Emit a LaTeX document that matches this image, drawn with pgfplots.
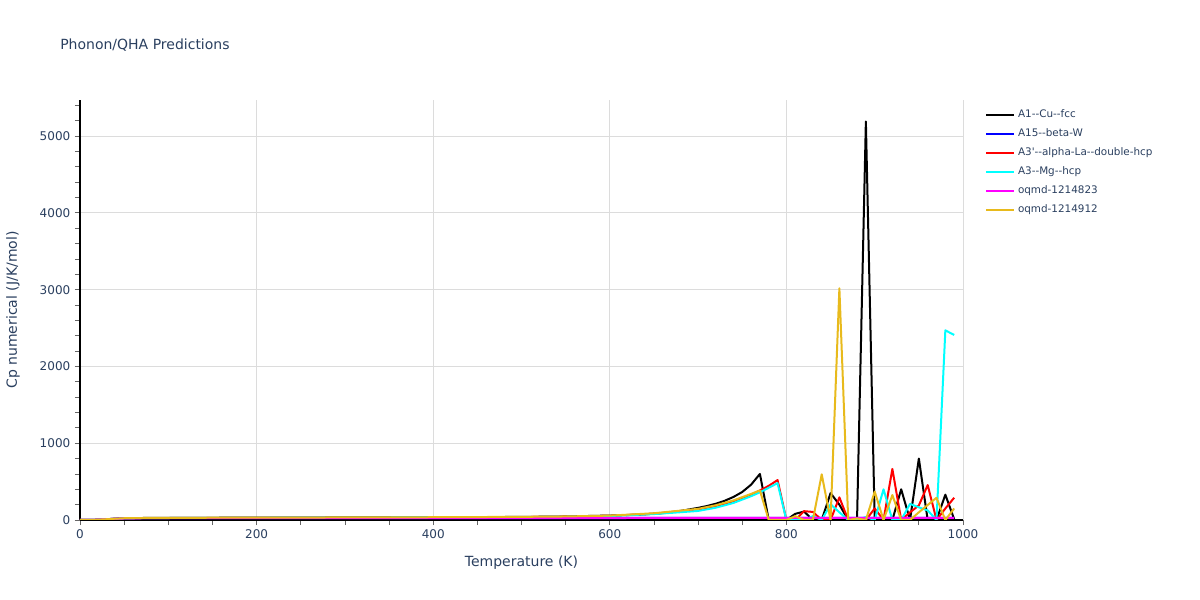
\documentclass[border=0pt]{standalone}
\usepackage{pgfplots}
\pgfplotsset{compat=1.18}
\usepackage{fontspec}
\setmainfont{DejaVu Sans}[Ligatures=TeXOff]
\definecolor{txt}{HTML}{2A3F5F}
\definecolor{gridc}{HTML}{DCDCDC}
\definecolor{gold}{HTML}{E8BA1C}
\definecolor{cyanx}{HTML}{00FFFF}
\definecolor{magx}{HTML}{FF00FF}
\definecolor{bluex}{HTML}{0000FF}
\definecolor{redx}{HTML}{FF0000}
\begin{document}
\begin{tikzpicture}[x=1pt,y=1pt]
\useasboundingbox (0,0) rectangle (900,450);
\node[anchor=west,inner sep=0pt,text=txt,font=\fontsize{10.5}{12}\selectfont] at (45,416.25) {Phonon/QHA Predictions};
\begin{axis}[
  at={(60pt,60pt)}, anchor=south west,
  width=662.25pt, height=315pt, scale only axis,
  xmin=0, xmax=1000, ymin=0, ymax=5470,
  axis x line*=bottom, axis y line*=left,
  axis line style={black, line width=0.8pt},
  xtick={0,200,...,1000}, ytick={0,1000,...,5000},
  minor xtick={0,50,...,1000}, minor ytick={0,200,...,5400},
  tick align=outside, major tick length=3.75pt, minor tick length=3.75pt,
  tick style={color=black!60, line width=0.6pt},
  grid=major, major grid style={color=gridc, line width=0.7pt},
  minor grid style={draw=none},
  ticklabel style={font=\fontsize{9}{10}\selectfont, text=txt},
  /pgf/number format/.cd, 1000 sep={}, assume math mode=true, /pgfplots/.cd,
  xlabel={Temperature (K)}, ylabel={Cp numerical (J/K/mol)},
  every axis x label/.style={at={(axis description cs:0.5,-0.1024)}, anchor=center, font=\fontsize{10.5}{12}\selectfont, text=txt},
  every axis y label/.style={at={(axis description cs:-0.0759,0.5)}, rotate=90, anchor=center, font=\fontsize{10.5}{12}\selectfont, text=txt},
  legend style={at={(axis description cs:1.0235,0.985)}, anchor=north west, draw=none, fill=none,
    font=\fontsize{7.8}{9}\selectfont, text=txt, row sep=4pt, inner sep=1pt,
    nodes={inner xsep=2pt, inner ysep=1pt, text height=6.5pt, text depth=1.75pt}},
  legend cell align=left,
  legend image code/.code={\draw[#1, line width=1.5pt] (0pt,0pt) -- (21pt,0pt);},
  every axis plot/.append style={line width=1.5pt, line join=round},
]
\addplot[black] coordinates {(0,0) (10,1) (20,4) (30,10) (40,18) (50,24) (70,26) (100,27) (150,29) (200,31) (300,33) (400,35) (500,40) (550,46) (600,58) (620,64) (640,74) (660,90) (680,118) (700,158) (710,182) (720,212) (730,250) (740,300) (750,365) (760,460) (770,600) (780,0) (790,0) (800,0) (810,80) (820,110) (830,0) (840,0) (850,350) (860,200) (870,0) (880,0) (890,5190) (900,0) (910,0) (920,0) (930,400) (940,0) (950,800) (960,0) (970,0) (980,330) (990,10)};
\addlegendentry{A1-{}-Cu-{}-fcc}
\addplot[bluex] coordinates {(0,0) (10,1) (20,4) (30,10) (40,16) (50,20) (70,23) (100,25) (300,26) (600,26) (990,27)};
\addlegendentry{A15-{}-beta-W}
\addplot[redx] coordinates {(0,0) (10,1) (20,4) (30,9) (40,15) (50,21) (70,24) (100,26) (200,29) (300,31) (400,34) (500,38) (550,43) (600,54) (650,82) (700,132) (720,175) (740,240) (760,330) (770,385) (780,445) (790,520) (800,0) (810,0) (820,115) (830,105) (840,0) (850,0) (860,295) (870,0) (880,0) (890,0) (900,150) (910,0) (920,665) (930,0) (940,100) (950,190) (960,455) (970,0) (980,150) (990,290)};
\addlegendentry{A3'-{}-alpha-La-{}-double-hcp}
\addplot[cyanx] coordinates {(0,0) (10,1) (20,4) (30,9) (40,15) (50,21) (70,24) (100,26) (200,29) (300,31) (400,34) (500,37) (550,42) (600,52) (650,77) (700,118) (720,160) (740,222) (760,310) (770,360) (780,420) (790,480) (800,0) (810,0) (820,0) (830,50) (840,0) (850,205) (860,100) (870,0) (880,0) (890,40) (900,0) (910,400) (920,0) (930,0) (940,210) (950,165) (960,125) (970,0) (980,2470) (990,2410)};
\addlegendentry{A3-{}-Mg-{}-hcp}
\addplot[magx] coordinates {(0,0) (10,1) (20,4) (30,10) (40,16) (50,20) (70,23) (100,25) (300,26) (600,26) (990,27)};
\addlegendentry{oqmd-1214823}
\addplot[gold] coordinates {(0,0) (10,1) (20,4) (30,10) (40,17) (50,23) (70,26) (100,28) (200,31) (300,33) (400,36) (500,41) (550,46) (600,57) (650,88) (700,145) (720,192) (740,255) (760,340) (770,385) (780,0) (790,0) (800,0) (810,50) (820,0) (830,0) (840,595) (850,0) (860,3017) (870,0) (880,20) (890,0) (900,370) (910,0) (920,325) (930,0) (940,0) (950,100) (960,195) (970,290) (980,0) (990,150)};
\addlegendentry{oqmd-1214912}
\end{axis}
\end{tikzpicture}
\end{document}
